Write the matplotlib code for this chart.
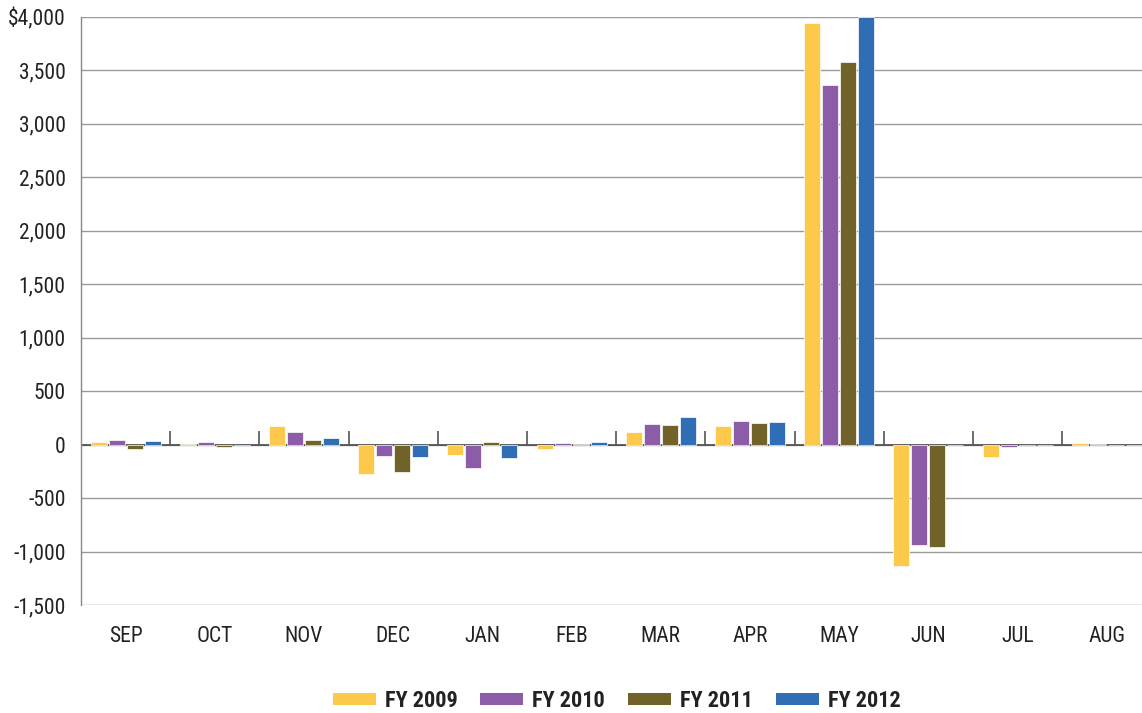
import matplotlib
matplotlib.use("Agg")
import matplotlib.pyplot as plt
from matplotlib import font_manager as fm
from matplotlib.patches import Patch
from matplotlib.ticker import FuncFormatter
import numpy as np

months = ['SEP', 'OCT', 'NOV', 'DEC', 'JAN', 'FEB', 'MAR', 'APR', 'MAY', 'JUN', 'JUL', 'AUG']
fy2009 = [25, 10, 177, -270, -100, -44, 120, 175, 3945, -1135, -115, 12]
fy2010 = [46, 22, 114, -105, -222, 19, 196, 225, 3365, -940, -22, 6]
fy2011 = [-43, -19, 43, -260, 21, 9, 182, 202, 3575, -955, -10, -6]
fy2012 = [34, -9, 65, -118, -124, 25, 260, 212, 4000, 0, 0, 0]
series_names = ['FY 2009', 'FY 2010', 'FY 2011', 'FY 2012']
yticks = [-1500, -1000, -500, 0, 500, 1000, 1500, 2000, 2500, 3000, 3500, 4000]

colors = ['#FCC94B', '#8C5CA8', '#706229', '#2F6DB5']
series = [fy2009, fy2010, fy2011, fy2012]


def _w(f):
    w = f.weight
    if isinstance(w, str):
        w = fm.weight_dict.get(w, 400)
    return w


def pick_font(bold):
    pref = ['Roboto Condensed', 'Open Sans Condensed', 'Liberation Sans Narrow',
            'DejaVu Sans Condensed', 'DejaVu Sans']
    best = None
    for f in fm.fontManager.ttflist:
        txt = f.name + ' ' + f.fname
        cond = (f.stretch in ('condensed', 'semi-condensed', 'extra-condensed')
                or 'Condensed' in txt or 'Narrow' in txt)
        if not cond or f.style != 'normal':
            continue
        w = _w(f)
        target = 700 if bold else 400
        rank = next((i for i, p in enumerate(pref) if f.name.startswith(p)), len(pref))
        score = (rank, abs(w - target))
        if best is None or score < best[0]:
            best = (score, f.fname)
    if best is None:
        return fm.FontProperties(family=['Roboto', 'DejaVu Sans'],
                                 weight='bold' if bold else 'normal')
    return fm.FontProperties(fname=best[1])


fp_reg = pick_font(False)
fp_bold = pick_font(True)

W, H = 1142, 713
fig = plt.figure(figsize=(W / 100, H / 100), dpi=100)
renderer = fig.canvas.get_renderer()


def text_width(s, fp, size):
    t = fig.text(0, 0, s, fontproperties=fp, size=size)
    wpx = t.get_window_extent(renderer).width
    t.remove()
    return wpx


ysize = 15.5
xsize = 15.5
lsize = 16

left = 81 / W
right = (81 + 12 * 89.2) / W
bottom = (H - 605) / H
top = (H - 17) / H
ax = fig.add_axes([left, bottom, right - left, top - bottom])

x = np.arange(len(months))
step = 0.202
width = 0.18
for i, (vals, c, name) in enumerate(zip(series, colors, series_names)):
    ax.bar(x + (i - 1.5) * step, vals, width=width, color=c, edgecolor='white',
           linewidth=0.5, zorder=3, label=name)

ax.set_xlim(-0.5, len(months) - 0.5)
ax.set_ylim(-1500, 4000)
ax.set_yticks(yticks)
ax.yaxis.set_major_formatter(FuncFormatter(
    lambda v, p: ('$' if v == 4000 else '') + f"{int(v):,}"))
ax.grid(axis='y', color='#9a9a9a', linewidth=1.0, zorder=0)
ax.set_axisbelow(True)

ax.set_xticks(x)
ax.set_xticklabels(months)
ax.tick_params(axis='x', length=0, pad=15, colors='#222222')
ax.tick_params(axis='y', length=0, pad=11, colors='#222222')
for lab in ax.get_xticklabels():
    lab.set_fontproperties(fp_reg)
    lab.set_fontsize(xsize)
for lab in ax.get_yticklabels():
    lab.set_fontproperties(fp_reg)
    lab.set_fontsize(ysize)

for s in ['top', 'right', 'bottom']:
    ax.spines[s].set_visible(False)
ax.spines['left'].set_color('#888888')
ax.spines['left'].set_linewidth(1.0)

# zero line and category separators
ax.axhline(0, color='#4a4a4a', linewidth=1.2, zorder=2)
ax.vlines(np.arange(0.5, len(months), 1.0), 0, 131, color='#555555', linewidth=1.2, zorder=2)

lprop = fp_bold.copy()
lprop.set_size(lsize)
em = lsize * 100 / 72
tw = np.mean([text_width(n, lprop, lsize) for n in series_names])
colsp = max(5, 147.7 - 43 - 9 - tw)
handles = [Patch(facecolor=c, edgecolor='none', label=n) for c, n in zip(colors, series_names)]
fig.legend(handles=handles, loc='center', bbox_to_anchor=(616.5 / W, 12 / H), ncol=4,
           frameon=False, prop=lprop, handlelength=43 / em,
           handleheight=0.4, handletextpad=9 / em,
           columnspacing=colsp / em, labelcolor='#222222')

fig.savefig('out.png', dpi=100)
